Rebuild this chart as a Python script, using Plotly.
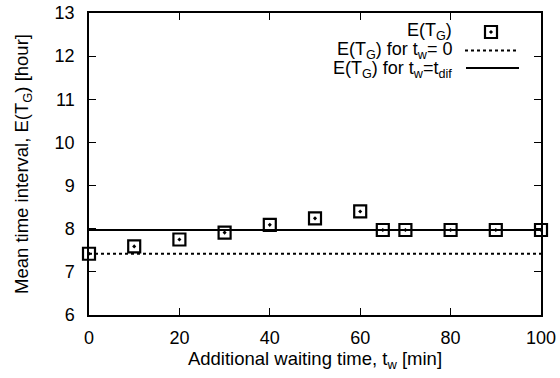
import plotly.graph_objects as go

# data
tw = [0, 10, 20, 30, 40, 50, 60, 65, 70, 80, 90, 100]
ETG = [7.42, 7.59, 7.75, 7.91, 8.09, 8.24, 8.40, 7.97, 7.97, 7.97, 7.97, 7.97]
line_x = [0, 100]
ETG_tw0 = [7.42, 7.42]
ETG_twdif = [7.97, 7.97]
xticks = [0, 20, 40, 60, 80, 100]
yticks = [6, 7, 8, 9, 10, 11, 12, 13]

FONT = "Liberation Sans, Arial, sans-serif"
FS_TICK = 18
FS_TITLE = 18.5
FS_LEG = 18

W, H = 560, 378
L, R, T, B = 89, 541, 13, 315


def px(xs):  # pixel x -> paper fraction
    return (xs - L) / (R - L)


def py(ys):  # pixel y -> paper fraction
    return 1 - (ys - T) / (B - T)


fig = go.Figure()
fig.add_trace(go.Scatter(x=line_x, y=ETG_tw0, mode="lines",
                         line=dict(color="black", width=2, dash="dot"),
                         showlegend=False))
fig.add_trace(go.Scatter(x=line_x, y=ETG_twdif, mode="lines",
                         line=dict(color="black", width=2),
                         showlegend=False))
fig.add_trace(go.Scatter(x=tw, y=ETG, mode="markers", cliponaxis=False,
                         marker=dict(symbol="square-open-dot", size=12, color="black",
                                     line=dict(color="black", width=2.2)),
                         showlegend=False))

# legend sample marker (gnuplot-style legend: text on the left, sample on the right)
fig.add_trace(go.Scatter(x=[px(491)], y=[py(32)], mode="markers", xaxis="x2", yaxis="y2",
                         cliponaxis=False,
                         marker=dict(symbol="square-open-dot", size=12, color="black",
                                     line=dict(color="black", width=2.2)),
                         showlegend=False, hoverinfo="skip"))

fig.update_layout(
    width=W, height=H,
    margin=dict(l=L, r=W - R, t=T, b=H - B, pad=0),
    paper_bgcolor="white", plot_bgcolor="white",
    font=dict(family=FONT, size=FS_TICK, color="black"),
    xaxis=dict(range=[0, 100], tickvals=xticks, ticks="inside", ticklen=7,
               tickwidth=1, tickcolor="black", showline=True, linecolor="black",
               linewidth=1.5, mirror="ticks", showgrid=False, zeroline=False,
               automargin=False, tickfont=dict(size=FS_TICK), ticklabelstandoff=6,
               ticklabeloverflow="allow",
               title=dict(text="Additional waiting time, t<sub>w</sub> [min]",
                          standoff=4, font=dict(size=FS_TITLE))),
    yaxis=dict(range=[6, 13], tickvals=yticks, ticks="inside", ticklen=7,
               tickwidth=1, tickcolor="black", showline=True, linecolor="black",
               linewidth=1.5, mirror="ticks", showgrid=False, zeroline=False,
               automargin=False, tickfont=dict(size=FS_TICK), ticklabelstandoff=9,
               ticklabeloverflow="allow",
               title=dict(text="Mean time interval, E(T<sub>G</sub>) [hour]",
                          standoff=21, font=dict(size=FS_TITLE))),
    xaxis2=dict(range=[0, 1], overlaying="x", visible=False),
    yaxis2=dict(range=[0, 1], overlaying="y", visible=False),
)

fig.add_annotation(x=px(454), y=py(32), xref="paper", yref="paper",
                   text="E(T<sub>G</sub>)", showarrow=False, xanchor="right",
                   yanchor="middle", font=dict(size=FS_LEG))
fig.add_annotation(x=px(454), y=py(51), xref="paper", yref="paper",
                   text="E(T<sub>G</sub>) for t<sub>w</sub>= 0", showarrow=False,
                   xanchor="right", yanchor="middle", font=dict(size=FS_LEG))
fig.add_annotation(x=px(454), y=py(69), xref="paper", yref="paper",
                   text="E(T<sub>G</sub>) for t<sub>w</sub>=t<sub>dif</sub>", showarrow=False,
                   xanchor="right", yanchor="middle", font=dict(size=FS_LEG))
fig.add_shape(type="line", xref="paper", yref="paper", x0=px(465), x1=px(517),
              y0=py(50.5), y1=py(50.5), line=dict(color="black", width=2, dash="dot"))
fig.add_shape(type="line", xref="paper", yref="paper", x0=px(466), x1=px(519),
              y0=py(68), y1=py(68), line=dict(color="black", width=2))

# remove the default 8px page margin so the figure sits at the window's top-left corner
fig.write_html("out.html", config={"displayModeBar": False},
               post_script="document.body.style.margin='0';")
